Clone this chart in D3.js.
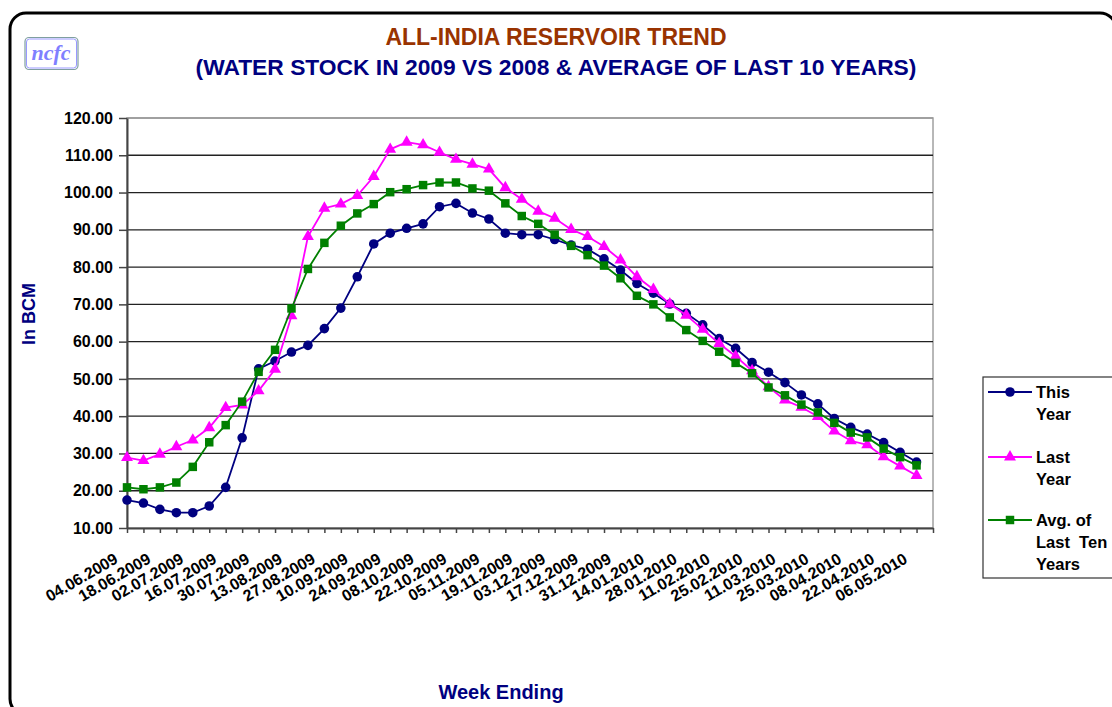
<!DOCTYPE html>
<html>
<head>
<meta charset="utf-8">
<script src="https://cdn.jsdelivr.net/npm/d3@7"></script>
<style>
  body { margin: 0; background: #fff; }
  svg { display: block; font-family: "Liberation Sans", Arial, sans-serif; }
</style>
</head>
<body>
<script>
// week ending dates (one per point)
var weeks = ['04.06.2009','11.06.2009','18.06.2009','25.06.2009','02.07.2009','09.07.2009','16.07.2009','23.07.2009',
  '30.07.2009','06.08.2009','13.08.2009','20.08.2009','27.08.2009','03.09.2009','10.09.2009','17.09.2009',
  '24.09.2009','01.10.2009','08.10.2009','15.10.2009','22.10.2009','29.10.2009','05.11.2009','12.11.2009',
  '19.11.2009','26.11.2009','03.12.2009','10.12.2009','17.12.2009','24.12.2009','31.12.2009','07.01.2010',
  '14.01.2010','21.01.2010','28.01.2010','04.02.2010','11.02.2010','18.02.2010','25.02.2010','04.03.2010',
  '11.03.2010','18.03.2010','25.03.2010','01.04.2010','08.04.2010','15.04.2010','22.04.2010','29.04.2010',
  '06.05.2010'];

var thisYear = [17.5,16.7,15.0,14.1,14.1,15.9,20.9,34.2,52.7,54.8,
  57.2,59.0,63.5,69.0,77.4,86.2,89.1,90.4,91.6,96.2,
  97.1,94.5,92.9,89.1,88.7,88.7,87.4,85.9,84.8,82.2,
  79.2,75.6,73.0,70.1,67.6,64.5,60.8,58.2,54.4,51.8,
  49.0,45.7,43.3,39.4,37.0,35.2,32.9,30.3,27.7];

var lastYear = [28.9,28.1,29.8,31.8,33.6,36.9,42.3,43.0,46.8,52.6,
  66.9,88.2,95.8,96.9,99.2,104.3,111.6,113.5,112.8,110.8,
  108.9,107.6,106.3,101.3,98.2,95.0,93.1,90.1,88.2,85.5,
  81.9,77.4,74.0,70.1,67.1,63.3,59.5,56.1,52.2,47.9,
  44.3,42.4,39.9,36.0,33.4,32.3,29.1,26.6,24.1];

var avgTenYears = [20.9,20.4,20.9,22.2,26.4,33.0,37.6,43.9,51.9,57.8,
  68.9,79.5,86.5,91.1,94.4,96.9,100.1,100.9,102.0,102.7,
  102.7,101.1,100.5,97.1,93.7,91.6,88.7,85.7,83.2,80.4,
  77.0,72.3,70.0,66.5,63.1,60.2,57.3,54.3,51.5,47.7,
  45.6,43.1,41.0,38.2,35.6,34.3,31.3,29.0,26.8];

var yTicks = [10,20,30,40,50,60,70,80,90,100,110,120];

var seriesNames = [['This', 'Year'], ['Last', 'Year'], ['Avg. of', 'Last  Ten', 'Years']];
var seriesColors = ['#000080', '#ff00ff', '#008000'];
var seriesShapes = [d3.symbolCircle, d3.symbolTriangle, d3.symbolSquare];

const w = 1112;
const h = 707;
const plotLeft = 127, plotRight = 933, plotTop = 118, plotBottom = 528;

var svg = d3.select('body')
  .append('svg')
  .attr('width', w)
  .attr('height', h);

// outer frame
svg.append('rect')
  .attr('x', 10).attr('y', 13)
  .attr('width', 1106).attr('height', 702)
  .attr('rx', 16)
  .attr('fill', '#fff')
  .attr('stroke', '#000')
  .attr('stroke-width', 3);

// logo
svg.append('rect')
  .attr('x', 25).attr('y', 37.5)
  .attr('width', 53).attr('height', 32)
  .attr('rx', 4)
  .attr('fill', '#fff')
  .attr('stroke', '#7f9f9f')
  .attr('stroke-width', 1.2);
svg.append('rect')
  .attr('x', 26.5).attr('y', 39)
  .attr('width', 50).attr('height', 29)
  .attr('rx', 3)
  .attr('fill', 'none')
  .attr('stroke', '#9999ff')
  .attr('stroke-width', 1);
svg.append('text')
  .attr('x', 51).attr('y', 60)
  .attr('text-anchor', 'middle')
  .style('font-family', '"Liberation Serif", "DejaVu Serif", serif')
  .style('font-style', 'italic')
  .style('font-weight', 'bold')
  .style('font-size', '22px')
  .attr('fill', '#7f7fff')
  .text('ncfc');

// titles
svg.append('text')
  .attr('x', 556).attr('y', 45)
  .attr('text-anchor', 'middle')
  .style('font-size', '23px').style('font-weight', 'bold')
  .attr('fill', '#993300')
  .text('ALL-INDIA RESERVOIR TREND');

svg.append('text')
  .attr('x', 556).attr('y', 75)
  .attr('text-anchor', 'middle')
  .style('font-size', '22.8px').style('font-weight', 'bold')
  .attr('fill', '#000080')
  .text('(WATER STOCK IN 2009 VS 2008 & AVERAGE OF LAST 10 YEARS)');

var xScale = d3.scalePoint()
  .domain(d3.range(weeks.length + 1))
  .range([plotLeft, plotRight]);

var yScale = d3.scaleLinear()
  .domain([10, 120])
  .range([plotBottom, plotTop]);

// plot border
svg.append('rect')
  .attr('x', plotLeft).attr('y', plotTop)
  .attr('width', plotRight - plotLeft).attr('height', plotBottom - plotTop)
  .attr('fill', '#fff')
  .attr('stroke', '#a0a0a0')
  .attr('stroke-width', 1.5);

// gridlines
svg.append('g')
  .selectAll('line')
  .data(yTicks.slice(1))
  .enter()
  .append('line')
  .attr('x1', plotLeft).attr('x2', plotRight)
  .attr('y1', d => yScale(d)).attr('y2', d => yScale(d))
  .attr('stroke', d => d == 120 ? '#999' : '#222')
  .attr('stroke-width', 1.3);

const yAxis = d3.axisLeft(yScale)
  .tickValues(yTicks)
  .tickFormat(d3.format('.2f'))
  .tickSizeInner(8)
  .tickSizeOuter(0)
  .tickPadding(6);

var yg = svg.append('g')
  .attr('transform', 'translate(' + plotLeft + ',0)')
  .call(yAxis);
yg.select('.domain').attr('stroke', '#444').attr('stroke-width', 2);
yg.selectAll('line').attr('stroke', '#444').attr('stroke-width', 1.5);
yg.selectAll('text')
  .style('font-size', '16px').style('font-weight', 'bold')
  .style('font-family', '"Liberation Sans", Arial, sans-serif')
  .attr('fill', '#000');

const xAxis = d3.axisBottom(xScale)
  .tickFormat('')
  .tickSizeInner(5)
  .tickSizeOuter(0);

var xg = svg.append('g')
  .attr('transform', 'translate(0,' + plotBottom + ')')
  .call(xAxis);
xg.select('.domain').attr('stroke', '#444').attr('stroke-width', 2);
xg.selectAll('line').attr('stroke', '#444').attr('stroke-width', 1.5);

// every second week gets a label
svg.append('g')
  .selectAll('text')
  .data(weeks.filter((d, i) => i % 2 == 0))
  .enter()
  .append('text')
  .attr('text-anchor', 'end')
  .attr('transform', (d, i) => 'translate(' + (xScale(i * 2) - 8) + ',' + 562 + ')rotate(-30)')
  .style('font-size', '16px').style('font-weight', 'bold')
  .attr('fill', '#000')
  .text(d => d);

// axis titles
svg.append('text')
  .attr('text-anchor', 'middle')
  .attr('transform', 'translate(35,314)rotate(-90)')
  .style('font-size', '18px').style('font-weight', 'bold')
  .attr('fill', '#000080')
  .text('In BCM');

svg.append('text')
  .attr('x', 501).attr('y', 699)
  .attr('text-anchor', 'middle')
  .style('font-size', '20px').style('font-weight', 'bold')
  .attr('fill', '#000080')
  .text('Week Ending');

// series
var allSeries = [thisYear, lastYear, avgTenYears];
var line = d3.line()
  .x((d, i) => xScale(i))
  .y(d => yScale(d));

allSeries.forEach(function(values, k) {
  var g = svg.append('g');
  g.append('path')
    .datum(values)
    .attr('d', line)
    .attr('fill', 'none')
    .attr('stroke', seriesColors[k])
    .attr('stroke-width', 1.8);
  g.selectAll('path.mark')
    .data(values)
    .enter()
    .append('path')
    .attr('class', 'mark')
    .attr('transform', (d, i) => 'translate(' + xScale(i) + ',' + yScale(d) + ')')
    .attr('d', d3.symbol().type(seriesShapes[k]).size(k == 1 ? 62 : 72))
    .attr('fill', seriesColors[k]);
});

// legend
var legend = svg.append('g');
legend.append('rect')
  .attr('x', 983).attr('y', 377)
  .attr('width', 140).attr('height', 201)
  .attr('fill', '#fff')
  .attr('stroke', '#333')
  .attr('stroke-width', 1.2);

var legendY = [392, 457, 520];
seriesNames.forEach(function(lines, k) {
  var y = legendY[k];
  legend.append('line')
    .attr('x1', 988).attr('x2', 1032)
    .attr('y1', y).attr('y2', y)
    .attr('stroke', seriesColors[k])
    .attr('stroke-width', 1.8);
  legend.append('path')
    .attr('transform', 'translate(1010,' + y + ')')
    .attr('d', d3.symbol().type(seriesShapes[k]).size(k == 1 ? 62 : 72))
    .attr('fill', seriesColors[k]);
  legend.append('text')
    .attr('x', 1036).attr('y', y + 6)
    .style('font-size', '16.5px').style('font-weight', 'bold')
    .style('white-space', 'pre')
    .attr('fill', '#000')
    .selectAll('tspan')
    .data(lines)
    .enter()
    .append('tspan')
    .attr('x', 1036)
    .attr('dy', (d, i) => i == 0 ? 0 : 22)
    .text(d => d);
});
</script>
</body>
</html>
